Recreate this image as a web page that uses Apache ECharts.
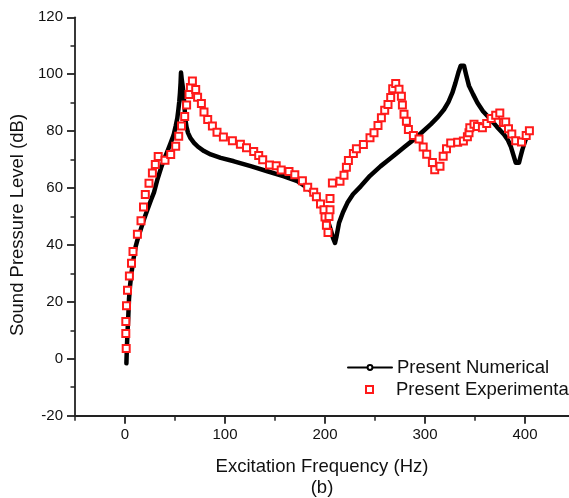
<!DOCTYPE html>
<html><head><meta charset="utf-8">
<script src="https://cdn.jsdelivr.net/npm/echarts@6/dist/echarts.min.js"></script>
<style>html,body{margin:0;padding:0;background:#fff}#c{width:569px;height:498px}</style>
</head><body><div id="c"></div>
<script>
const numFreq = [1.4,2,2.6,3.3,4,5,6.4,8.5,10.7,13,15.7,19,22.4,26,29,32.4,36,39,42.5,45.7,48.5,50.7,52.3,53.4,54.3,55,55.6,56,56.8,57.6,58.4,59.4,60.4,61.5,63,65.5,69,73,79,85.7,95.7,109,125.7,142.4,159,172.4,182.4,189,192.4,196,199,202,205.7,208,210,211.5,214,218,222.4,228,235.7,245,255.7,264,272.4,280,289,297,305.7,313,319,323.5,327.4,330.5,333.4,335.7,339,341,344,348,352.4,358,365.7,372,379,383,385.7,388.5,390.7,394,395.5,397.4,400.7,401.7];
const numSPL = [-1.6,5,10,15,21,25.5,30,35,39.5,42.5,45.4,49,52.4,55.8,58.5,63,67,70,73,75.9,78.5,81.8,84.5,87.6,90.5,93.5,97,100.6,98,96,93.5,89,84.1,81.5,79.4,77.5,75.9,74.5,73,71.8,70.6,69.4,67.7,65.9,64.1,62.4,60.1,58,56.5,54.5,52.4,49.5,45.4,42.5,40.7,43,47.7,51.5,54.8,57.8,60.6,64.3,67.7,70,72.4,74.6,77.1,79.6,82.4,85,87.6,90.3,93.5,97,100.6,103,103,100,95.9,93,90,87,84.1,81.5,78.8,76.8,74.7,71.5,68.9,68.9,71,73.5,77.1,77.5];
const expFreq = [1.2,0.8,0.8,1.5,2.5,4.4,6.5,8,12.4,16,18.5,20.3,24,27.4,30.3,33.2,40,45.7,50.7,53.7,56.5,59.7,61.6,64,65.4,67.4,70.7,72.6,76.4,79,82.7,87.4,92,98.4,107.4,115.4,121.5,128.7,133.7,137.7,144.5,151.2,156.2,164,169.8,177.4,182.7,188.7,191.4,195.5,199,200,201.4,203,204,205,205,207.4,215,219,221.4,223.4,228.4,231.4,238.4,245,249,253,256.4,259.7,263,265.7,267.7,270.7,274,276.4,277.4,279,281.4,283.4,288.4,294,298.2,301.7,307.4,309.7,315,318.2,321.5,325.7,332.7,338.4,342.4,344,344.8,349,352.4,357.4,361.7,366.2,370.7,374.8,378.4,380.7,383.5,386.8,390.7,396.5,401.2,404.4];
const expSPL = [3.6,8.9,13.1,18.6,24.1,29.1,33.6,37.7,43.8,48.5,53.3,57.7,61.7,65.3,68.3,71.1,69.8,71.8,74.7,78.2,81.8,85.1,89.2,92.9,95.3,97.6,94.6,91.9,89.7,86.7,84.1,81.8,79.6,77.9,76.6,75.4,74.2,72.8,71.4,69.9,68.1,67.8,66.3,65.8,64.7,62.6,60.3,58.5,56.9,54.4,52.4,49.8,46.9,44.4,50,52.4,56.3,61.8,62.4,64.5,67.3,69.7,72.1,73.8,75.3,77.7,79.4,82,84.7,87.3,89.4,91.8,94.9,96.7,94.7,92.3,89.2,85.9,83.5,80.6,78.5,77.2,74.4,71.9,69,66.4,67.7,71.2,73.8,75.8,76.1,76.5,78,79.4,81.2,82.4,81.6,81.2,82.7,84.4,85.6,86.4,83,83.2,80.8,79,76.6,76.2,78.5,80.1];
const xLabelTicks = [0,100,200,300,400];
const xMinorTicks = [-50,50,150,250,350];
const seriesNames = ['Present Numerical','Present Experimenta'];
const xTitle = 'Excitation Frequency (Hz)\n(b)';
const yTitle = 'Sound Pressure Level (dB)';

const zip = (a, b) => a.map((v, i) => [v, b[i]]);
const font = 'Liberation Sans, Arial, sans-serif';
const axisCol = '#222';
const gridBox = {left: 75, top: 17.3, width: 494, height: 398.4, containLabel: false, outerBoundsMode: 'none'};

const chart = echarts.init(document.getElementById('c'), null, {renderer: 'canvas'});
chart.setOption({
  animation: false,
  backgroundColor: '#fff',
  textStyle: {fontFamily: font},
  grid: [Object.assign({}, gridBox), Object.assign({}, gridBox)],
  legend: [{
    orient: 'vertical', left: 347, top: 358, padding: 0,
    itemWidth: 44, itemHeight: 6,
    textStyle: {fontFamily: font, fontSize: 18.5, color: '#111'},
    data: [seriesNames[0]]
  }, {
    orient: 'vertical', left: 365, top: 380, padding: 0,
    itemWidth: 7, itemHeight: 7,
    textStyle: {fontFamily: font, fontSize: 18.5, color: '#111', padding: [0, 0, 0, 18]},
    data: [seriesNames[1]]
  }],
  graphic: [{
    type: 'text', x: 18, y: 225, rotation: Math.PI / 2,
    style: {text: yTitle, font: '18.5px ' + font, fill: '#111', align: 'center', verticalAlign: 'middle'}
  }],
  xAxis: [{
    type: 'value', gridIndex: 0, min: -50, max: 444, position: 'bottom',
    name: xTitle, nameLocation: 'middle', nameGap: 41,
    nameTextStyle: {fontFamily: font, fontSize: 18.5, color: '#111', lineHeight: 21},
    axisLine: {show: true, onZero: false, lineStyle: {color: axisCol, width: 1.8}},
    axisTick: {show: true, customValues: xLabelTicks, length: 8, lineStyle: {color: axisCol, width: 1.8}},
    axisLabel: {customValues: xLabelTicks, fontFamily: font, fontSize: 15, color: '#111', margin: 12},
    splitLine: {show: false}
  }, {
    type: 'value', gridIndex: 1, min: -50, max: 444, position: 'bottom',
    axisLine: {show: false, onZero: false},
    axisTick: {show: true, customValues: xMinorTicks, length: 5, lineStyle: {color: axisCol, width: 1.5}},
    axisLabel: {show: false},
    splitLine: {show: false}
  }],
  yAxis: [{
    type: 'value', gridIndex: 0, min: -20, max: 120, interval: 20,
    axisLine: {show: true, onZero: false, lineStyle: {color: axisCol, width: 1.8}},
    axisTick: {show: true, length: 8, lineStyle: {color: axisCol, width: 1.8}},
    minorTick: {show: true, splitNumber: 2, length: 4.5, lineStyle: {color: axisCol, width: 1.5}},
    axisLabel: {fontFamily: font, fontSize: 15, color: '#111', margin: 12},
    splitLine: {show: false}, minorSplitLine: {show: false}
  }, {
    type: 'value', gridIndex: 1, min: -20, max: 120, show: false
  }],
  series: [{
    name: seriesNames[0], type: 'line', xAxisIndex: 0, yAxisIndex: 0,
    data: zip(numFreq, numSPL),
    showSymbol: false, symbol: 'emptyCircle', symbolSize: 4,
    itemStyle: {color: '#000'},
    lineStyle: {color: '#000', width: 4.5, join: 'round', cap: 'round'},
    smooth: false, z: 2
  }, {
    name: seriesNames[1], type: 'scatter', xAxisIndex: 0, yAxisIndex: 0,
    data: zip(expFreq, expSPL),
    symbol: 'emptyRect', symbolSize: 7,
    itemStyle: {color: '#ff1a1a', borderWidth: 1.5, opacity: 1},
    z: 3
  }]
});
</script></body></html>
